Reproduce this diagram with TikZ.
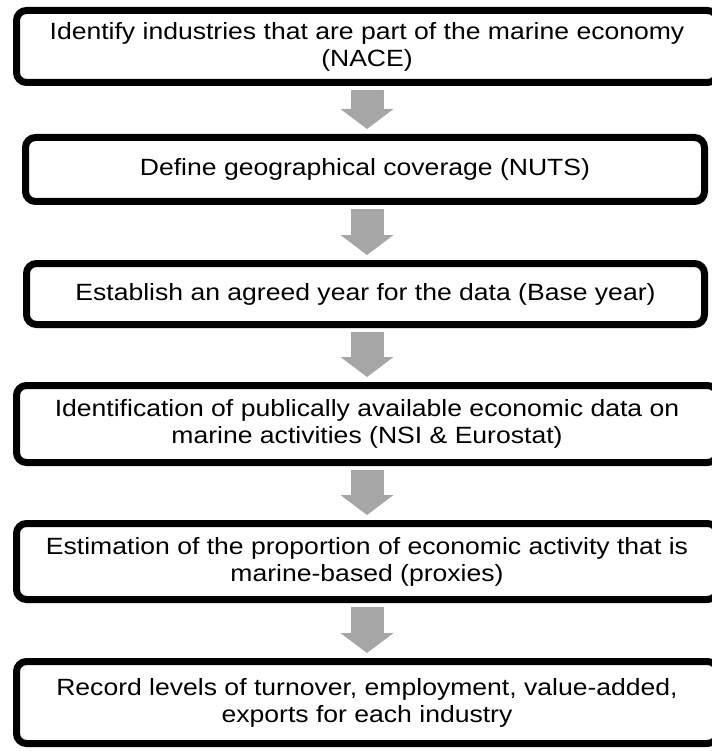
\documentclass[tikz,border=0pt]{standalone}
\usepackage{fontspec}
\setmainfont[FakeStretch=1.13]{Liberation Sans}
\usepackage{tikz}
\usetikzlibrary{shadows,arrows.meta}
\definecolor{arrowgray}{rgb}{0.65,0.65,0.65}

\begin{document}
\begin{tikzpicture}[x=1pt, y=-1pt,
		stepbox/.style={draw, line width=7pt, rounded corners=10pt, fill=white, align=center, inner sep=0pt,
			font=\fontsize{23.5}{27}\selectfont,
			drop shadow={shadow xshift=2pt, shadow yshift=-3pt, opacity=0.3}},
		flowarrow/.style={draw=arrowgray, line width=33pt, -{Triangle[length=20pt, width=53pt, line width=0pt]}}]
			\useasboundingbox (0,0) rectangle (711,751);
			\node[stepbox, minimum width=701pt, minimum height=72pt] (nace) at (367,46.5) {Identify industries that are part of the marine economy\\(NACE)};
			\node[stepbox, minimum width=679pt, minimum height=64pt] (nuts) at (365,169.5) {Define geographical coverage (NUTS)};
			\node[stepbox, minimum width=678pt, minimum height=61pt] (base) at (365.5,294) {Establish an agreed year for the data (Base year)};
			\node[stepbox, minimum width=701pt, minimum height=77pt] (data) at (367,424) {Identification of publically available economic data on\\marine activities (NSI \& Eurostat)};
			\node[stepbox, minimum width=701pt, minimum height=76pt] (prox) at (367,561.5) {Estimation of the proportion of economic activity that is\\marine-based (proxies)};
			\node[stepbox, minimum width=701pt, minimum height=82pt] (rec) at (367,702.5) {Record levels of turnover, employment, value-added,\\exports for each industry};
			\draw[flowarrow] ([yshift=-4pt]nace.south) -- ([yshift=5pt]nace.south |- nuts.north);
			\draw[flowarrow] ([yshift=-4pt]nace.south |- nuts.south) -- ([yshift=5pt]nace.south |- base.north);
			\draw[flowarrow] ([yshift=-4pt]nace.south |- base.south) -- ([yshift=5pt]data.north);
			\draw[flowarrow] ([yshift=-4pt]data.south) -- ([yshift=5pt]prox.north);
			\draw[flowarrow] ([yshift=-4pt]prox.south) -- ([yshift=5pt]rec.north);
		\end{tikzpicture}
\end{document}
